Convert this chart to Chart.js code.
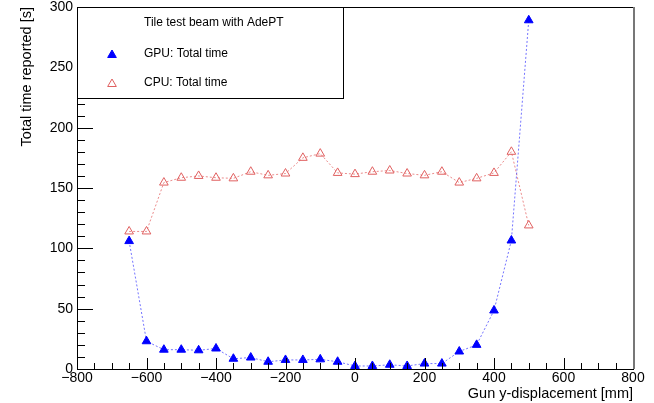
<!DOCTYPE html>
<html>
<head>
<meta charset="utf-8">
<style>
  html, body { margin: 0; padding: 0; background: #fff; }
  canvas { display: block; }
</style>
<script src="https://cdn.jsdelivr.net/npm/chart.js@4.4.1/dist/chart.umd.min.js"></script>
</head>
<body>
<canvas id="c" width="654" height="403"></canvas>
<script>
// ---- data ----
const xPositions = [-650, -600, -550, -500, -450, -400, -350, -300, -250, -200, -150, -100,
                    -50, 0, 50, 100, 150, 200, 250, 300, 350, 400, 450, 500];
const gpuTimes = [106, 23, 16, 16, 15.5, 17, 8.5, 9.5, 6, 7.5, 7.5, 8,
                  6, 2.5, 2.5, 3.5, 2.5, 4.5, 4.5, 14.5, 20, 48.5, 106.5, 289];
const cpuTimes = [114, 114, 154.5, 158.5, 160, 158.5, 158, 163.5, 160.5, 162, 175, 178.5,
                  162.5, 161.5, 163.5, 164.5, 162, 160.5, 163.5, 154.5, 158, 162.5, 180, 119];
const legendHeader = 'Tile test beam with AdePT';
const gpuLabel = 'GPU: Total time';
const cpuLabel = 'CPU: Total time';
const xTitle = 'Gun y-displacement [mm]';
const yTitle = 'Total time reported [s]';
const xRange = [-800, 800];
const yRange = [0, 300];

const FONT = '"Liberation Sans", Arial, Helvetica, sans-serif';

function pts(ys) { return xPositions.map((x, i) => ({x: x, y: ys[i]})); }
function fmt(v) { return v < 0 ? '\u2212' + Math.abs(v) : String(v); }

// inward ROOT-style ticks + frame
const framePlugin = {
  id: 'frame',
  afterDatasetsDraw(chart) {
    const ctx = chart.ctx;
    const a = chart.chartArea;
    const xs = chart.scales.x, ys = chart.scales.y;
    ctx.save();
    ctx.strokeStyle = '#000';
    ctx.lineWidth = 1;
    ctx.beginPath();
    for (let v = yRange[0]; v <= yRange[1]; v += 10) {
      const py = Math.round(ys.getPixelForValue(v)) + 0.5;
      const len = (v % 50 === 0) ? 16 : 8;
      ctx.moveTo(a.left, py); ctx.lineTo(a.left + len, py);
    }
    for (let v = xRange[0]; v <= xRange[1]; v += 50) {
      const px = Math.round(xs.getPixelForValue(v)) + 0.5;
      const len = (v % 200 === 0) ? 11 : 6;
      ctx.moveTo(px, a.bottom); ctx.lineTo(px, a.bottom - len);
    }
    ctx.moveTo(a.left, Math.round(a.top) + 0.5);
    ctx.lineTo(a.right, Math.round(a.top) + 0.5);
    ctx.stroke();
    ctx.strokeStyle = '#777';
    ctx.lineWidth = 2;
    ctx.beginPath();
    ctx.moveTo(Math.round(a.right) + 1, a.top);
    ctx.lineTo(Math.round(a.right) + 1, a.bottom);
    ctx.stroke();
    ctx.restore();
  },
  afterDraw(chart) {
    const ctx = chart.ctx;
    const a = chart.chartArea;
    const bx = a.left, by = a.top, bw = 266, bh = 91;
    ctx.save();
    ctx.fillStyle = '#fff';
    ctx.fillRect(bx, by, bw, bh);
    ctx.strokeStyle = '#000';
    ctx.lineWidth = 1;
    ctx.strokeRect(Math.round(bx) + 0.5, Math.round(by) + 0.5, bw, bh);
    ctx.fillStyle = '#000';
    ctx.font = '12px ' + FONT;
    ctx.textBaseline = 'middle';
    ctx.textAlign = 'left';
    ctx.fillText(legendHeader, bx + 67, by + 16);
    const rows = [by + 47, by + 76];
    chart.data.datasets.forEach((ds, i) => {
      const y = rows[i];
      ctx.save();
      ctx.fillStyle = ds.pointBackgroundColor;
      ctx.strokeStyle = ds.pointBorderColor;
      ctx.lineWidth = ds.pointBorderWidth;
      Chart.helpers.drawPoint(ctx, {pointStyle: 'triangle', radius: ds.pointRadius, rotation: 0,
                                   borderWidth: ds.pointBorderWidth}, bx + 35, y + 1);
      ctx.restore();
      ctx.fillStyle = '#000';
      ctx.fillText(ds.label, bx + 67, y);
    });
    ctx.restore();
  }
};

new Chart(document.getElementById('c'), {
  type: 'scatter',
  data: {
    datasets: [
      {
        label: gpuLabel,
        data: pts(gpuTimes),
        showLine: true,
        borderColor: 'rgba(70,70,255,0.75)',
        borderWidth: 1,
        borderDash: [2, 2],
        pointStyle: 'triangle',
        pointRadius: 5,
        pointHoverRadius: 5,
        pointBackgroundColor: '#0000ff',
        pointBorderColor: '#0000ff',
        pointBorderWidth: 1,
        clip: false
      },
      {
        label: cpuLabel,
        data: pts(cpuTimes),
        showLine: true,
        borderColor: 'rgba(230,110,110,0.8)',
        borderWidth: 1,
        borderDash: [2, 2],
        pointStyle: 'triangle',
        pointRadius: 5,
        pointHoverRadius: 5,
        pointBackgroundColor: 'rgba(255,255,255,0)',
        pointBorderColor: '#e06060',
        pointBorderWidth: 1,
        clip: false
      }
    ]
  },
  options: {
    responsive: false,
    animation: false,
    events: [],
    layout: { padding: { top: 7, right: 21, left: 0, bottom: 0 } },
    plugins: { legend: { display: false }, tooltip: { enabled: false } },
    scales: {
      x: {
        type: 'linear',
        min: xRange[0], max: xRange[1],
        grid: { display: false, drawTicks: false },
        border: { display: true, color: '#000', width: 1 },
        ticks: { stepSize: 200, padding: 1, color: '#000', font: { family: FONT, size: 14 },
                 maxRotation: 0, autoSkip: false, callback: v => fmt(v) },
        title: { display: true, text: xTitle, align: 'end', color: '#000',
                 font: { family: FONT, size: 14.5 }, padding: { top: 0, bottom: 0 } },
        afterFit(s) { s.height = 34; s.paddingLeft = 0; s.paddingRight = 0; }
      },
      y: {
        type: 'linear',
        min: yRange[0], max: yRange[1],
        grid: { display: false, drawTicks: false },
        border: { display: true, color: '#000', width: 1 },
        ticks: { stepSize: 50, padding: 4, color: '#000', font: { family: FONT, size: 14 },
                 autoSkip: false, callback: v => fmt(v) },
        title: { display: true, text: yTitle, align: 'end', color: '#000',
                 font: { family: FONT, size: 14.5 }, padding: { top: 18, bottom: 0 } },
        afterFit(s) { s.width = 77; s.paddingTop = 0; s.paddingBottom = 0; }
      }
    }
  },
  plugins: [framePlugin]
});
</script>
</body>
</html>
